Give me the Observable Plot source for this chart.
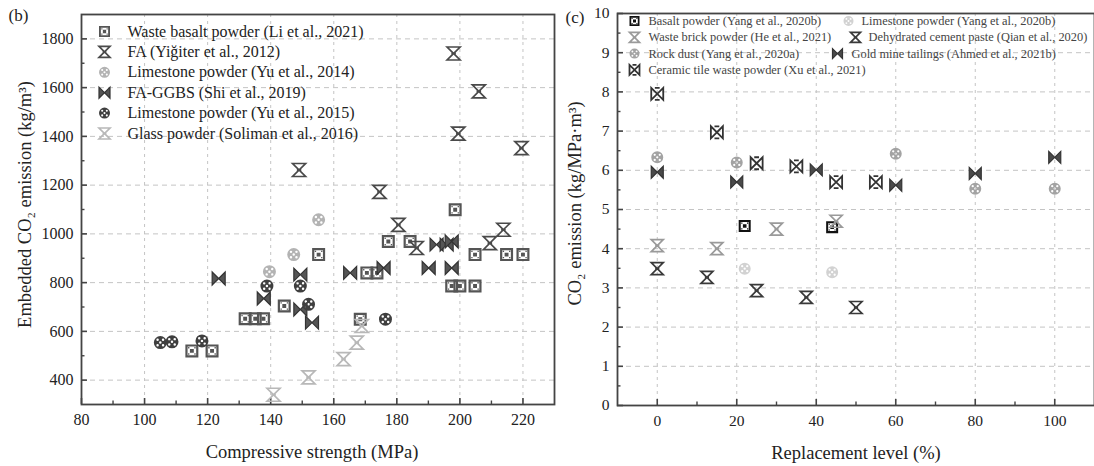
<!DOCTYPE html>
<html><head><meta charset="utf-8">
<script src="https://cdn.jsdelivr.net/npm/d3@7"></script>
<script src="https://cdn.jsdelivr.net/npm/@observablehq/plot@0.6"></script>
<style>
html,body{margin:0;padding:0;background:#fff;overflow:hidden}
#wrap{position:relative;width:1094px;height:466px;overflow:hidden}
#left,#right{position:absolute;top:0}
#left{left:0}
#right{left:560px}
svg, svg text{font-family:"Liberation Serif","Times New Roman",serif !important}
</style></head>
<body><div id="wrap"><div id="left"></div><div id="right"></div></div>
<script>
// ---------------- DATA: panel (b) ----------------
const leftNames = [
  "Waste basalt powder (Li et al., 2021)",
  "FA (Yiğiter et al., 2012)",
  "Limestone powder (Yu et al., 2014)",
  "FA-GGBS (Shi et al., 2019)",
  "Limestone powder (Yu et al., 2015)",
  "Glass powder (Soliman et al., 2016)"
];
const wasteBasaltLi = [[115,520],[121.4,520],[131.9,652],[135.1,652],[137.7,652],[144.3,704],[155.2,915],[168.4,650],[170.5,840],[173.7,840],[177.3,969],[184.2,969],[197.4,786],[200,786],[204.8,786],[198.5,1099],[204.8,915],[214.8,915],[220,915]];
const faYigiter = [[198,1740],[206,1585],[199.5,1411],[219.5,1352],[149,1262],[174.5,1172],[180.5,1037],[213.8,1017],[209.5,962],[186.3,942]];
const limestoneYu2014 = [[139.6,845],[147.3,915],[155.2,1058]];
const faGgbsShi = [[123.5,817],[137.8,735],[149.4,833],[149.4,690],[153.1,636],[165.2,840],[175.8,860],[190.1,860],[197.4,860],[192.6,956],[195.8,956],[197.4,969]];
const limestoneYu2015 = [[105,554],[108.7,557],[118.2,561],[138.8,786],[149.4,786],[152,711],[176.4,650]];
const glassSoliman = [[140.9,340],[152,411],[163.1,486],[167.3,554],[168.9,622]];
const leftXTicks = [80,100,120,140,160,180,200,220];
const leftXMinor = [90,110,130,150,170,190,210];
const leftYTicks = [400,600,800,1000,1200,1400,1600,1800];
const leftYMinor = [500,700,900,1100,1300,1500,1700];

// ---------------- DATA: panel (c) ----------------
const rightNames = [
  "Basalt powder (Yang et al., 2020b)",
  "Limestone powder (Yang et al., 2020b)",
  "Waste brick powder (He et al., 2021)",
  "Dehydrated cement paste (Qian et al., 2020)",
  "Rock dust (Yang et al., 2020a)",
  "Gold mine tailings (Ahmed et al., 2021b)",
  "Ceramic tile waste powder (Xu et al., 2021)"
];
const basaltYang = [[22,4.58],[44,4.55]];
const limestoneYang = [[22,3.49],[44,3.4]];
const wasteBrickHe = [[0,4.08],[15,4.0],[30,4.5],[45,4.7]];
const dehydratedQian = [[0,3.49],[12.5,3.27],[25,2.93],[37.5,2.76],[50,2.5]];
const rockDustYang = [[0,6.33],[20,6.2],[60,6.42],[80,5.53],[100,5.53]];
const goldAhmed = [[0,5.95],[20,5.7],[40,6.01],[60,5.62],[80,5.92],[100,6.33]];
const ceramicXu = [[0,7.95],[15,6.97],[25,6.18],[35,6.1],[45,5.7],[55,5.7]];
const rightXTicks = [0,20,40,60,80,100];
const rightXMinor = [10,30,50,70,90];
const rightYTicks = [0,1,2,3,4,5,6,7,8,9,10];
const rightYMinor = [0.5,1.5,2.5,3.5,4.5,5.5,6.5,7.5,8.5,9.5];

// ---------------- symbols ----------------
function mk(fn){ return {draw(c, size){ fn(c, Math.sqrt(size/Math.PI)); }}; }
function rect(c,x,y,s,ccw){
  if(!ccw){c.moveTo(x-s,y-s);c.lineTo(x+s,y-s);c.lineTo(x+s,y+s);c.lineTo(x-s,y+s);c.closePath();}
  else {c.moveTo(x-s,y-s);c.lineTo(x-s,y+s);c.lineTo(x+s,y+s);c.lineTo(x+s,y-s);c.closePath();}
}
function disk(c,x,y,r,ccw){ c.moveTo(x+r,y); c.arc(x,y,r,0,2*Math.PI,!!ccw); }
const SYM = {
  boxDot: mk((c,h)=>{ rect(c,0,0,h,false); rect(c,0,0,h*0.66,true); rect(c,0,0,h*0.3,false);
    const q=h*0.48,s=h*0.1; for(const [a,b] of [[-q,-q],[q,-q],[-q,q],[q,q]]) rect(c,a,b,s,false); }),
  dotDisk: mk((c,r)=>{ disk(c,0,0,r,false); const q=r*0.42,s=r*0.19;
    for(const [a,b] of [[-q,-q],[q,-q],[-q,q],[q,q],[0,0]]) disk(c,a,b,s,true); }),
  hourglass: mk((c,h)=>{ c.moveTo(-h,-h); c.lineTo(h,-h); c.lineTo(-h,h); c.lineTo(h,h); c.closePath();
    c.moveTo(-h*0.35,0); c.lineTo(h*0.35,0); }),
  bowtie: mk((c,h)=>{ c.moveTo(-h,-h); c.lineTo(-h,h); c.lineTo(h,-h); c.lineTo(h,h); c.closePath(); }),
  bowtieRing: mk((c,h)=>{ c.moveTo(-h,-h); c.lineTo(-h,h); c.lineTo(h,-h); c.lineTo(h,h); c.closePath();
    c.moveTo(-h*0.4,-h); c.lineTo(h*0.4,-h); c.moveTo(-h*0.4,h); c.lineTo(h*0.4,h); })
};

const leftStyles = [
  {symbol: SYM.boxDot, fill: "#555", stroke: "none", sw: 0},
  {symbol: SYM.hourglass, fill: "none", stroke: "#4a4a4a", sw: 1.7},
  {symbol: SYM.dotDisk, fill: "#b3b3b3", stroke: "none", sw: 0},
  {symbol: SYM.bowtie, fill: "#555", stroke: "#333", sw: 1.2},
  {symbol: SYM.dotDisk, fill: "#3f3f3f", stroke: "none", sw: 0},
  {symbol: SYM.hourglass, fill: "none", stroke: "#b8b8b8", sw: 1.7}
];
const leftData = [wasteBasaltLi, faYigiter, limestoneYu2014, faGgbsShi, limestoneYu2015, glassSoliman];

const rightStyles = [
  {symbol: SYM.boxDot, fill: "#111", stroke: "none", sw: 0},
  {symbol: SYM.dotDisk, fill: "#d2d2d2", stroke: "none", sw: 0},
  {symbol: SYM.hourglass, fill: "none", stroke: "#9a9a9a", sw: 1.7},
  {symbol: SYM.hourglass, fill: "none", stroke: "#3a3a3a", sw: 1.7},
  {symbol: SYM.dotDisk, fill: "#a3a3a3", stroke: "none", sw: 0},
  {symbol: SYM.bowtie, fill: "#4a4a4a", stroke: "#333", sw: 1.2},
  {symbol: SYM.bowtieRing, fill: "none", stroke: "#333", sw: 1.8}
];
const rightData = [basaltYang, limestoneYang, wasteBrickHe, dehydratedQian, rockDustYang, goldAhmed, ceramicXu];

const FONT = "Liberation Serif, Times New Roman, serif";
const AX = "#444";

function axisMarks(xT, xM, yT, yM, xGrid, yGrid, pw, ph, fs){
  return [
    Plot.gridX(xGrid, {stroke: "#c4c4c4", strokeOpacity: 1, strokeDasharray: "3,4", strokeWidth: 1}),
    Plot.gridY(yGrid, {stroke: "#c4c4c4", strokeOpacity: 1, strokeDasharray: "5,4", strokeWidth: 1}),
    Plot.ruleX(xT, {insetTop: ph - 6, stroke: AX, strokeWidth: 1.6}),
    Plot.ruleX(xM, {insetTop: ph - 3.5, stroke: AX, strokeWidth: 1.4}),
    Plot.ruleY(yT, {insetRight: pw - 6, stroke: AX, strokeWidth: 1.6}),
    Plot.ruleY(yM, {insetRight: pw - 3.5, stroke: AX, strokeWidth: 1.4}),
    Plot.axisX(xT, {tickSize: 0, tickPadding: 9, label: null, fontSize: fs, fill: "#222", tickFormat: d => String(d)}),
    Plot.axisY(yT, {tickSize: 0, tickPadding: 8, label: null, fontSize: fs, fill: "#222", tickFormat: d => String(d)}),
    Plot.frame({stroke: AX, strokeWidth: 1.8})
  ];
}
function seriesMarks(datas, styles, r){
  return datas.map((d, i) => Plot.dot(d, {x: p => p[0], y: p => p[1], symbol: styles[i].symbol, r,
    fill: styles[i].fill, stroke: styles[i].stroke, strokeWidth: styles[i].sw}));
}
function legendMarks(names, styles, pos, r, fs, color){
  const m = [];
  names.forEach((n, i) => {
    const p = pos[i];
    m.push(Plot.dot([0], {frameAnchor: "top-left", dx: p[0], dy: p[2], symbol: styles[i].symbol, r,
      fill: styles[i].fill, stroke: styles[i].stroke, strokeWidth: styles[i].sw}));
    m.push(Plot.text([n], {frameAnchor: "top-left", dx: p[1], dy: p[2], text: d => d, textAnchor: "start",
      lineAnchor: "middle", fontSize: fs, fill: color}));
  });
  return m;
}

// ---------------- panel (b) ----------------
{
  const W = 560, H = 466, ml = 81, mr = 6, mt = 14, mb = 62;
  const pw = W - ml - mr, ph = H - mt - mb;
  const lpos = leftNames.map((_, i) => [23, 46, 17 + i * 20.4]);
  const chart = Plot.plot({
    width: W, height: H, marginLeft: ml, marginRight: mr, marginTop: mt, marginBottom: mb,
    style: {fontFamily: FONT, fontSize: "16px", background: "white", color: "#222", overflow: "visible"},
    x: {domain: [80, 230]},
    y: {domain: [300, 1900]},
    marks: [
      ...axisMarks(leftXTicks, leftXMinor, leftYTicks, leftYMinor, leftXTicks.slice(1), leftYTicks, pw, ph, 16),
      ...seriesMarks(leftData, leftStyles, 6.5),
      ...legendMarks(leftNames, leftStyles, lpos, 5.5, 16, "#222"),
      Plot.text(["Compressive strength (MPa)"], {frameAnchor: "bottom", dx: -6, dy: 48, text: d => d, fontSize: 18.5, fill: "#222", textAnchor: "middle", lineAnchor: "middle"}),
      Plot.text(["Embedded CO₂ emission (kg/m³)"], {frameAnchor: "left", dx: -56, dy: -5, rotate: -90, text: d => d, fontSize: 18.5, fill: "#222", textAnchor: "middle", lineAnchor: "middle"}),
      Plot.text(["(b)"], {frameAnchor: "top-left", dx: -73, dy: 1, text: d => d, fontSize: 17, fill: "#222", textAnchor: "start", lineAnchor: "middle"})
    ]
  });
  document.getElementById("left").appendChild(chart);
}

// ---------------- panel (c) ----------------
{
  const W = 534, H = 466, ml = 57, mr = 0, mt = 13, mb = 61;
  const pw = W - ml - mr, ph = H - mt - mb;
  const rowH = 16.3, y0 = 7.5;
  const rpos = [
    [17, 31, y0], [231, 244, y0],
    [17, 31, y0 + rowH], [238, 251, y0 + rowH],
    [17, 31, y0 + 2 * rowH], [220, 234, y0 + 2 * rowH],
    [17, 31, y0 + 3 * rowH]
  ];
  const chart = Plot.plot({
    width: W, height: H, marginLeft: ml, marginRight: mr, marginTop: mt, marginBottom: mb,
    style: {fontFamily: FONT, fontSize: "16px", background: "white", color: "#222", overflow: "visible"},
    x: {domain: [-10, 110]},
    y: {domain: [0, 10]},
    marks: [
      ...axisMarks(rightXTicks, rightXMinor, rightYTicks, rightYMinor, rightXTicks, rightYTicks.slice(1, -1), pw, ph, 15.5),
      ...seriesMarks(rightData, rightStyles, 6),
      ...legendMarks(rightNames, rightStyles, rpos, 5, 12.4, "#444"),
      Plot.text(["Replacement level (%)"], {frameAnchor: "bottom", dx: 0, dy: 48, text: d => d, fontSize: 18.5, fill: "#222", textAnchor: "middle", lineAnchor: "middle"}),
      Plot.text(["CO₂ emission (kg/MPa·m³)"], {frameAnchor: "left", dx: -42, dy: -6, rotate: -90, text: d => d, fontSize: 18.5, fill: "#222", textAnchor: "middle", lineAnchor: "middle"}),
      Plot.text(["(c)"], {frameAnchor: "top-left", dx: -52, dy: 4, text: d => d, fontSize: 17, fill: "#222", textAnchor: "start", lineAnchor: "middle"})
    ]
  });
  document.getElementById("right").appendChild(chart);
}
</script></body></html>
